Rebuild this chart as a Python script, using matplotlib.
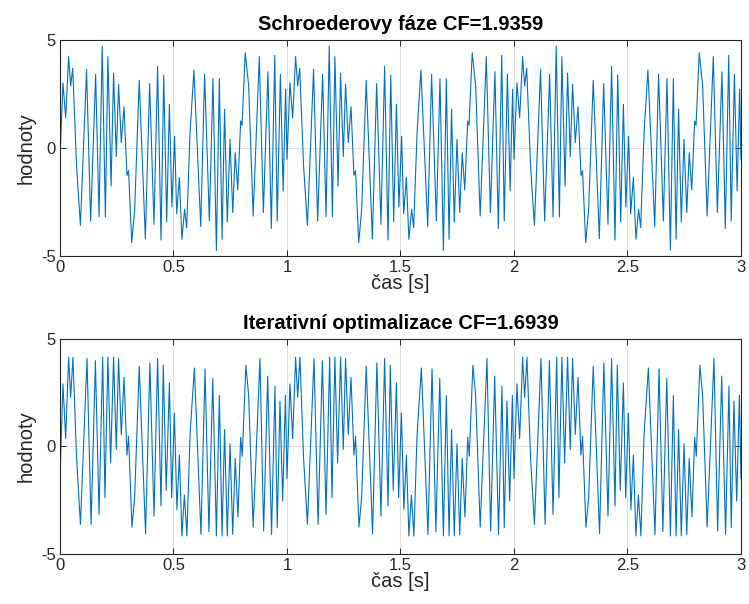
"""
plot.py
=======
Dva periodické multisinusové signály (perioda 1 s) vykreslené ve stylu MATLABu:
- Schroederovy fáze
- Iterativní optimalizace fází
Hodnoty jsou odečtené z obrázku (extrémy jedné periody).
"""

import matplotlib

matplotlib.use("Agg")
import matplotlib.pyplot as plt
import numpy as np

# ─── Data (jedna perioda) ────────────────────────────────────────────────────
N_PERIODS = 3

t_schroeder = [
    0.000, 0.013, 0.025, 0.038, 0.047, 0.056, 0.073, 0.090, 0.117, 0.135,
    0.157, 0.172, 0.186, 0.200, 0.211, 0.225, 0.236, 0.248, 0.258, 0.270,
    0.282, 0.295, 0.302, 0.316, 0.329, 0.349, 0.376, 0.395, 0.414, 0.430,
    0.445, 0.457, 0.470, 0.482, 0.493, 0.505, 0.514, 0.526, 0.537, 0.549,
    0.558, 0.573, 0.590, 0.620, 0.637, 0.658, 0.674, 0.689, 0.702, 0.714,
    0.725, 0.737, 0.749, 0.761, 0.772, 0.783, 0.796, 0.802, 0.816, 0.831,
    0.851, 0.878, 0.896, 0.916, 0.931, 0.946, 0.957, 0.971, 0.983, 0.994,
]
v_schroeder = [
    -0.52, 3.02, 1.40, 4.23, 2.87, 3.69, -0.83, -3.58, 3.64, -3.38,
    3.41, -3.19, 4.72, -3.19, 4.23, -1.76, 3.46, -0.40, 2.95, 0.25,
    1.91, -1.27, -1.05, -4.38, -2.84, 3.13, -4.20, 2.98, -3.53, 3.77,
    -4.26, 3.38, -3.41, 2.02, -2.73, 0.54, -3.04, -1.37, -4.23, -2.84,
    -3.69, 0.71, 3.61, -3.64, 3.41, -3.38, 3.21, -4.74, 3.21, -4.23,
    1.79, -3.43, 0.40, -2.99, -0.22, -1.94, 1.25, 1.05, 4.41, 2.90,
    -3.15, 4.23, -2.99, 3.53, -3.73, 4.29, -3.38, 3.41, -1.99, 2.72,
]

t_iterative = [
    0.000, 0.013, 0.025, 0.038, 0.047, 0.057, 0.073, 0.090, 0.119, 0.137,
    0.156, 0.172, 0.188, 0.198, 0.211, 0.223, 0.236, 0.248, 0.258, 0.270,
    0.282, 0.295, 0.302, 0.317, 0.329, 0.349, 0.377, 0.396, 0.414, 0.430,
    0.445, 0.455, 0.468, 0.482, 0.492, 0.504, 0.515, 0.526, 0.537, 0.548,
    0.559, 0.573, 0.592, 0.621, 0.639, 0.656, 0.673, 0.689, 0.702, 0.714,
    0.725, 0.737, 0.749, 0.761, 0.772, 0.784, 0.796, 0.803, 0.819, 0.831,
    0.851, 0.881, 0.897, 0.915, 0.932, 0.947, 0.957, 0.969, 0.981, 0.993,
]
v_iterative = [
    -1.49, 2.91, 0.37, 4.15, 2.29, 4.15, -0.53, -3.62, 4.09, -3.62,
    3.99, -3.16, 4.15, -2.38, 4.15, -0.76, 4.15, -0.14, 4.09, 0.56,
    3.22, -0.40, 0.48, -3.75, -2.35, 3.73, -4.06, 3.89, -3.24, 4.09,
    -2.77, 3.78, -2.04, 2.96, -2.38, 1.55, -2.93, -0.40, -4.16, -2.26,
    -4.16, 0.56, 3.65, -4.09, 3.61, -3.96, 3.16, -4.16, 2.37, -4.16,
    0.79, -4.16, 0.12, -4.09, -0.56, -3.28, 0.43, -0.45, 3.78, 2.38,
    -3.75, 4.09, -3.93, 3.27, -4.09, 2.80, -3.78, 2.11, -2.54, 2.38,
]

titles = ["Schroederovy fáze CF=1.9359", "Iterativní optimalizace CF=1.6939"]
xticks = [0, 0.5, 1, 1.5, 2, 2.5, 3]
xtick_labels = ["0", "0.5", "1", "1.5", "2", "2.5", "3"]
yticks = [-5, 0, 5]

# ─── Styl ────────────────────────────────────────────────────────────────────
LINE_COLOR = "#0072BD"
AXIS_COLOR = "#262626"
GRID_COLOR = "#dedede"

plt.rcParams["font.family"] = ["Liberation Sans", "DejaVu Sans"]
plt.rcParams["axes.unicode_minus"] = False


def periodic(t_one, v_one, n):
    """Zopakuje odečtenou periodu n-krát a uzavře průběh v čase n."""
    t = np.concatenate([np.asarray(t_one) + k for k in range(n)] + [[n]])
    v = np.concatenate([np.asarray(v_one)] * n + [[v_one[0]]])
    return t, v


def style_axes(ax, title):
    ax.set_xlim(0, N_PERIODS)
    ax.set_ylim(-5, 5)
    ax.set_xticks(xticks)
    ax.set_xticklabels(xtick_labels)
    ax.set_yticks(yticks)
    ax.grid(True, color=GRID_COLOR, linewidth=0.8)
    ax.set_axisbelow(True)
    ax.tick_params(direction="in", top=True, right=True, length=4,
                   width=0.7, colors=AXIS_COLOR, labelsize=12, pad=3)
    for spine in ax.spines.values():
        spine.set_color(AXIS_COLOR)
        spine.set_linewidth(0.8)
    ax.set_xlabel("čas [s]", fontsize=14.5, color=AXIS_COLOR, labelpad=-1)
    ax.set_ylabel("hodnoty", fontsize=14.5, color=AXIS_COLOR, labelpad=4)
    ax.set_title(title, fontsize=14.5, fontweight="bold", color="black", pad=7)


fig = plt.figure(figsize=(7.49, 6.04), dpi=100)
ax_top = fig.add_axes([0.0801, 0.5762, 0.9092, 0.3576])
ax_bot = fig.add_axes([0.0801, 0.0828, 0.9092, 0.3560])

for ax, (t_one, v_one), title in zip(
    [ax_top, ax_bot],
    [(t_schroeder, v_schroeder), (t_iterative, v_iterative)],
    titles,
):
    t, v = periodic(t_one, v_one, N_PERIODS)
    ax.plot(t, v, color=LINE_COLOR, linewidth=0.8)
    style_axes(ax, title)

fig.savefig("out.png", dpi=100)
plt.close(fig)
